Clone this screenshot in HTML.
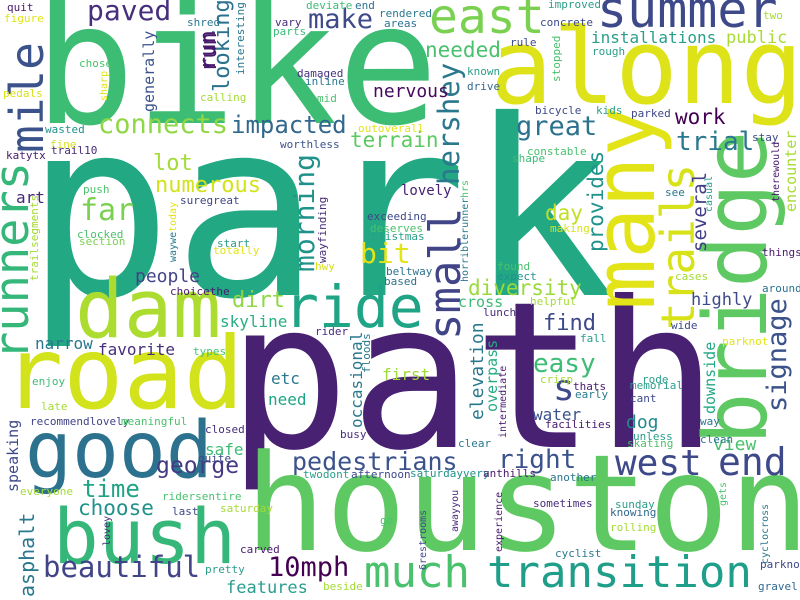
<!DOCTYPE html>
<html><head><meta charset="utf-8"><title>Word cloud</title>
<style>
html,body{margin:0;padding:0;background:#fff;}
svg{display:block;}
text{font-family:"DejaVu Sans Mono","Liberation Mono",monospace;}
</style></head>
<body>
<svg id="cloud" width="800" height="600" viewBox="0 0 800 600" xmlns="http://www.w3.org/2000/svg">
<rect width="800" height="600" fill="#ffffff"/>
</svg>
<script>
const words = ["park","path","bike","houston","along","road","good","bush","dam","ride","many","bridge","trails","small","summer","east","mile","runners","much","transition","west","end","beautiful","hershey","connects","morning","far","bit","s","10mph","great","signage","pedestrians","right","impacted","paved","make","trial","easy","george","time","lot","numerous","terrain","needed","work","find","choose","day","dirt","diversity","asphalt","provides","looking","run","several","nervous","elevation","dog","view","people","art","highly","installations","public","encounter","generally","narrow","favorite","skyline","etc","need","safe","first","features","speaking","occasional","water","downside","cross","overpass","lovely","interesting"];
const sizes = [245,204,168,134,104,100,78,76,81,58,85,87,46,44,50,48,46,47,44,44,36,38,29,29,27,28,30,28,36,27,27,27,25,26,24,28,27,26,26,23,24,22,22,21,21,21,22,21,21,22,21,20,21,22,22,19,18,18,18,18,18,16,17,16,17,15,15,16,16,16,16,16,16,16,17,15,16,16,15,15,15,14,11];
const colors = ["#23a884","#482173","#3dbc74","#5ec962","#dde318","#d2e21b","#2c728e","#35b779","#addc30","#20a486","#e2e418","#5ec962","#d8e219","#414487","#3e4989","#7ad151","#3b528b","#35b779","#4ac16d","#1f9e89","#3e4989","#3e4989","#414487","#2a788e","#8fd744","#21918c","#7ad151","#e2e418","#3e4989","#440154","#2c728e","#3b528b","#3b528b","#3b528b","#31688e","#472f7d","#3e4a89","#2a788e","#3dbc74","#443a83","#20a486","#a5db36","#d2e21b","#5ec962","#4ac16d","#440154","#3e4989","#21918c","#c2df23","#8fd744","#9bd93c","#2a788e","#21918c","#2c728e","#481a6c","#433e85","#46085c","#2a788e","#23898e","#4ac16d","#414487","#482878","#3e4a89","#2a9e8a","#a8db34","#a8db34","#3b528b","#2a788e","#472d7b","#29af7f","#2a788e","#20a486","#3dbc74","#a0da39","#2a9d8f","#3e4989","#2a788e","#3b528b","#22a884","#3dbc74","#25ab82","#482173","#2a788e"];
const posX = [25,227,34,245,490,3,25,53,75,284,654,766,694,460,597,429,43,28,364,487,615,718,43,459,98,314,80,360,553,268,516,786,292,498,231,87,308,676,533,156,82,153,155,350,425,675,543,78,545,232,468,34,603,229,216,706,373,483,626,713,135,16,691,591,726,796,154,35,98,220,271,268,205,382,226,18,362,533,715,458,497,401,244];
const posY = [295,447,123,550,103,408,477,563,337,327,310,445,330,340,27,33,153,360,587,587,475,475,577,185,133,272,220,263,400,576,135,412,470,468,133,20,28,150,372,473,497,170,192,147,57,124,330,515,220,307,295,597,252,92,72,252,97,420,428,450,282,203,305,43,43,212,112,349,355,327,384,405,455,380,593,492,428,420,414,307,412,195,75];
const vertical = [0,0,0,0,0,0,0,0,0,0,1,1,1,1,0,0,1,1,0,0,0,0,0,1,0,1,0,0,0,0,0,1,0,0,0,0,0,0,0,0,0,0,0,0,0,0,0,0,0,0,0,1,1,1,1,1,0,1,0,0,0,0,0,0,0,1,1,0,0,0,0,0,0,0,0,1,1,0,1,0,1,0,1];

const smallWords = ["quit","figure","shred","deviate","end","rendered","areas","vary","parts","chose","pedals","calling","damaged","inline","mid","wasted","fine","trail10","katytx","outoverall","worthless","push","suregreat","clocked","section","start","totally","hwy","choicethe","exceeding","deserves","christmas","beltway","based","improved","concrete","two","rule","rough","known","drive","bicycle","kids","parked","stay","constable","shape","see","making","found","expect","cases","things","around","rider","types","enjoy","late","recommendlovely","meaningful","closed","busy","quite","twodont","afternoon","saturdayvery","anthills","everyone","ridersentire","last","saturday","go","carved","pretty","beside","helpful","lunch","wide","fall","parknot","crisp","thats","early","rode","memorial","cant","facilities","way","unless","skating","clean","clear","another","sometimes","sunday","knowing","rolling","cyclist","parkno","gravel"];
const smallColors = ["#481a6c","#e2e418","#2a788e","#3dbc74","#2c728e","#2a788e","#2c728e","#472d7b","#3aba76","#4ac16d","#d8e219","#a5db36","#46337e","#2a788e","#4ac16d","#21918c","#d8e219","#472d7b","#481a6c","#e2e418","#3b528b","#4ac16d","#414487","#4ac16d","#7ad151","#2a9e8a","#e2e418","#d8e219","#481a6c","#3e4989","#4ac16d","#2a9e8a","#2c728e","#2c728e","#2a9e8a","#3e4989","#a5db36","#3e4989","#2a9e8a","#2a9e8a","#31688e","#3e4989","#2a9e8a","#3e4989","#3e4989","#4ac16d","#3dbc74","#2a788e","#d8e219","#4ac16d","#21918c","#a5db36","#481a6c","#2c728e","#472d7b","#4ac16d","#3dbc74","#a5db36","#414487","#4ac16d","#472d7b","#472d7b","#3e4989","#2a9e8a","#3e4989","#21918c","#481a6c","#a5db36","#4ac16d","#3e4989","#a5db36","#4ac16d","#481a6c","#2a9e8a","#a5db36","#a5db36","#472d7b","#3e4989","#2a9e8a","#e2e418","#a5db36","#481a6c","#2a788e","#2a9e8a","#2a9e8a","#3e4989","#481a6c","#2a788e","#2a9e8a","#4ac16d","#2a788e","#2a788e","#2a788e","#472d7b","#2a9e8a","#31688e","#a5db36","#2a788e","#3e4989","#31688e"];
const smallX = [7,4,187,306,355,379,384,275,273,79,3,200,297,305,317,45,50,51,6,358,280,83,180,77,79,217,213,315,170,367,370,365,386,384,548,540,763,510,592,467,467,535,596,631,752,527,512,665,550,497,497,675,762,762,315,193,32,41,30,121,205,340,198,303,351,410,483,20,162,172,220,380,240,205,323,530,483,671,580,722,540,573,575,642,630,630,545,700,633,627,700,458,550,533,615,610,610,555,760,758];
const smallY = [11,22,26,9,9,17,27,26,35,67,97,101,77,85,102,133,148,154,159,132,148,193,204,238,245,247,254,270,295,220,232,240,275,285,8,26,19,46,55,75,90,114,114,117,141,155,162,196,232,270,280,280,256,292,335,355,385,410,425,425,433,438,462,478,478,477,477,495,500,515,512,524,553,573,590,305,316,329,342,345,383,390,398,383,389,402,428,425,440,447,443,447,481,507,508,516,531,557,568,590];

const vWords = ["run","sharp","waywe","today","trailsegments","wayfinding","stopped","therewould","hrs","horriblerunner","casual","floods","lovey","intermediate","6restrooms","awayyou","experience","gets","cyclocross"];
const vColors = ["#481a6c","#e2e418","#2a788e","#e2e418","#a5db36","#472d7b","#4ac16d","#481a6c","#4ac16d","#2a788e","#2a9e8a","#2a788e","#472d7b","#481a6c","#3e4989","#472d7b","#481a6c","#4ac16d","#2a788e"];
const vX = [215,107,176,176,38,326,560,779,468,468,712,370,110,506,426,458,502,726,768];
const vY = [70,101,262,232,281,263,82,202,198,282,212,373,546,438,570,532,552,506,564];
const vSize = [22,10,10,10,11,11,11,10,10,10,10,11,10,10,10,10,10,10,10];

const svg = document.getElementById('cloud');
const NS = 'http://www.w3.org/2000/svg';
function addWord(txt, x, y, fs, col, vert) {
  const t = document.createElementNS(NS, 'text');
  
  
  t.setAttribute('font-size', fs);
  t.setAttribute('fill', col);
  if (vert) {
    t.setAttribute('transform', 'translate(' + x + ',' + y + ') rotate(-90)');
  } else {
    t.setAttribute('x', x);
    t.setAttribute('y', y);
  }
  t.textContent = txt;
  svg.appendChild(t);
}
for (let i = 0; i < words.length; i++) addWord(words[i], posX[i], posY[i], sizes[i], colors[i], vertical[i]);
for (let i = 0; i < smallWords.length; i++) addWord(smallWords[i], smallX[i], smallY[i], 11, smallColors[i % smallColors.length], 0);
for (let i = 0; i < vWords.length; i++) addWord(vWords[i], vX[i], vY[i], vSize[i], vColors[i], 1);
</script>
</body></html>
